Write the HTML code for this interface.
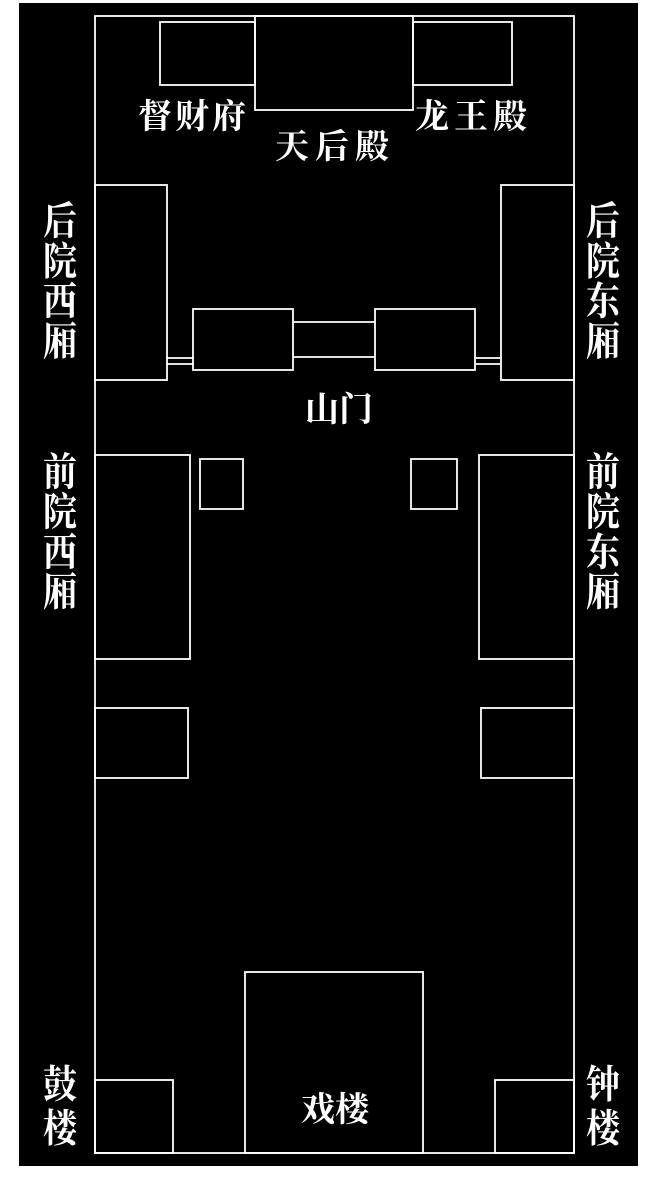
<!DOCTYPE html>
<html><head><meta charset="utf-8"><style>
html,body{margin:0;padding:0;background:#fff;width:650px;height:1186px;overflow:hidden}
svg{display:block}
text{font-family:"Liberation Serif","Noto Serif CJK SC",serif;fill:#fff;font-size:34px;font-weight:bold}
</style></head><body>
<svg width="650" height="1186" xmlns="http://www.w3.org/2000/svg">
<rect x="0" y="0" width="650" height="1186" fill="#fff"/>
<rect x="19" y="3" width="619" height="1163" fill="#000"/>
<g fill="none" stroke="#fff" stroke-width="1.8">
<rect x="95" y="16" width="479" height="1137"/>
<rect x="160" y="22" width="95" height="63"/>
<rect x="255" y="16" width="158" height="94"/>
<rect x="413" y="22" width="99" height="63"/>
<rect x="95" y="185" width="72" height="195"/>
<rect x="501" y="185" width="73" height="195"/>
<rect x="193" y="309" width="100" height="61"/>
<rect x="375" y="309" width="100" height="61"/>
<line x1="293" y1="322" x2="375" y2="322"/>
<line x1="293" y1="357" x2="375" y2="357"/>
<line x1="167" y1="358" x2="193" y2="358"/>
<line x1="167" y1="364" x2="193" y2="364"/>
<line x1="475" y1="358" x2="501" y2="358"/>
<line x1="475" y1="364" x2="501" y2="364"/>
<rect x="95" y="455" width="95" height="204"/>
<rect x="200" y="459" width="43" height="50"/>
<rect x="411" y="459" width="46" height="50"/>
<rect x="479" y="455" width="95" height="204"/>
<rect x="95" y="708" width="93" height="70"/>
<rect x="481" y="708" width="93" height="70"/>
<rect x="245" y="972" width="178" height="181"/>
<rect x="95" y="1080" width="78" height="73"/>
<rect x="495" y="1080" width="79" height="73"/>
</g>
<text x="192" y="128" text-anchor="middle" textLength="108">督财府</text>
<text x="332" y="158" text-anchor="middle" textLength="114">天后殿</text>
<text x="471" y="128" text-anchor="middle" textLength="112">龙王殿</text>
<text x="339" y="421" text-anchor="middle">山门</text>
<text x="335" y="1121" text-anchor="middle" font-size="36">戏楼</text>
<g text-anchor="middle" transform="scale(1,1.15)">
<text x="60" y="204">后</text><text x="60" y="239">院</text><text x="60" y="274">西</text><text x="60" y="309">厢</text>
<text x="603" y="204">后</text><text x="603" y="239">院</text><text x="603" y="274">东</text><text x="603" y="309">厢</text>
<text x="60" y="422">前</text><text x="60" y="457">院</text><text x="60" y="492">西</text><text x="60" y="527">厢</text>
<text x="603" y="422">前</text><text x="603" y="457">院</text><text x="603" y="492">东</text><text x="603" y="527">厢</text>
<text x="60" y="955">鼓</text><text x="60" y="993">楼</text>
<text x="603" y="955">钟</text><text x="603" y="993">楼</text>
</g>
</svg>
</body></html>
